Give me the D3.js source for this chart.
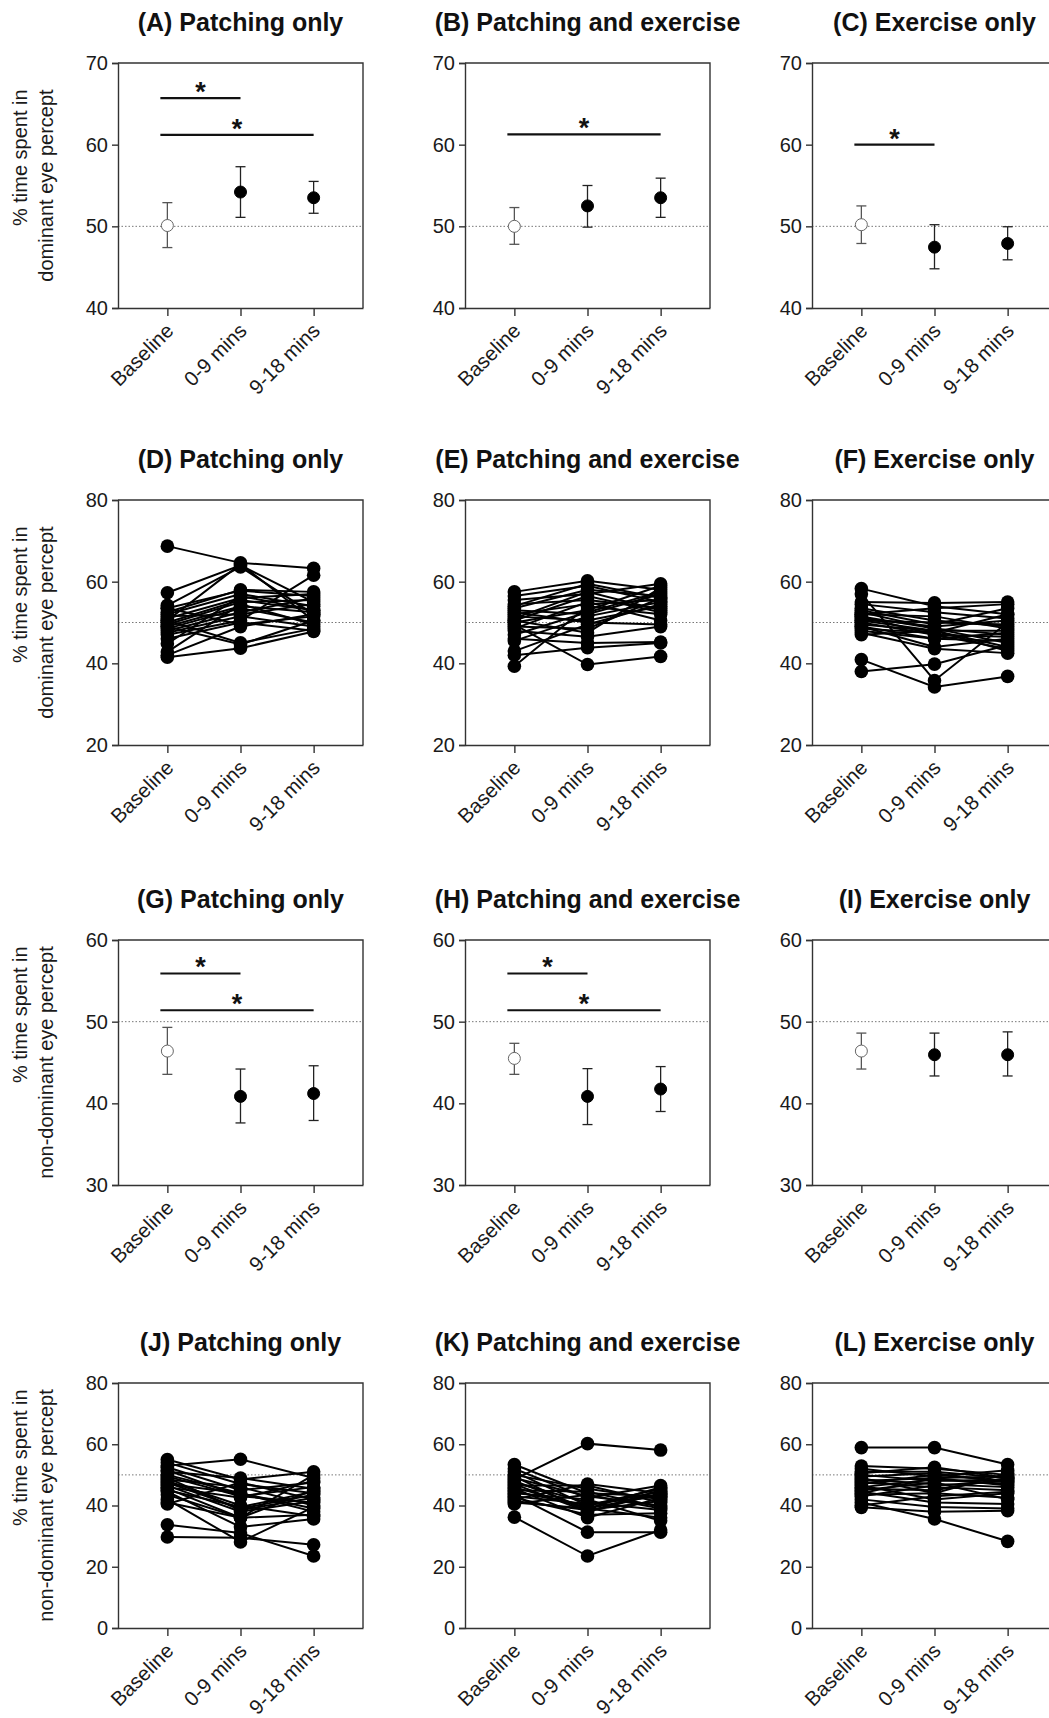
<!DOCTYPE html>
<html><head><meta charset="utf-8">
<script src="https://cdn.jsdelivr.net/npm/d3@7"></script>
<style>
body{margin:0;background:#fff;}
text{font-family:"Liberation Sans",Arial,Helvetica,sans-serif;}
</style>
</head><body>
<svg id="chart" width="1049" height="1718"></svg>
<script>
// ---------- DATA ----------
const categories = ["Baseline", "0-9 mins", "9-18 mins"];
const titles = [
  "(A) Patching only", "(B) Patching and exercise", "(C) Exercise only",
  "(D) Patching only", "(E) Patching and exercise", "(F) Exercise only",
  "(G) Patching only", "(H) Patching and exercise", "(I) Exercise only",
  "(J) Patching only", "(K) Patching and exercise", "(L) Exercise only"
];
const yLabelDominant = ["% time spent in", "dominant eye percept"];
const yLabelNonDominant = ["% time spent in", "non-dominant eye percept"];

const ticksRow1 = [40, 50, 60, 70];
const ticksRow2 = [20, 40, 60, 80];
const ticksRow3 = [30, 40, 50, 60];
const ticksRow4 = [0, 20, 40, 60, 80];
const referenceLine = 50;

// Summary panels: mean, lower and upper error limits
const meanA = [50.1, 54.2, 53.5], lowA = [47.4, 51.1, 51.6], highA = [52.9, 57.3, 55.5];
const meanB = [50.0, 52.5, 53.5], lowB = [47.8, 49.9, 51.1], highB = [52.3, 55.0, 55.9];
const meanC = [50.2, 47.45, 47.9], lowC = [47.9, 44.8, 45.9], highC = [52.5, 50.2, 49.95];
const meanG = [46.4, 40.85, 41.2], lowG = [43.55, 37.6, 37.9], highG = [49.3, 44.2, 44.6];
const meanH = [45.5, 40.85, 41.75], lowH = [43.55, 37.4, 39.0], highH = [47.35, 44.25, 44.5];
const meanI = [46.4, 45.95, 45.95], lowI = [44.2, 43.35, 43.35], highI = [48.6, 48.6, 48.75];

// significance comparisons: [fromIndex, toIndex, value level]
const sigA = [[0, 1, 65.7], [0, 2, 61.2]];
const sigB = [[0, 2, 61.25]];
const sigC = [[0, 1, 60.0]];
const sigG = [[0, 1, 55.9], [0, 2, 51.4]];
const sigH = [[0, 1, 55.9], [0, 2, 51.4]];
const sigI = [];

// Individual participants: [Baseline, 0-9 mins, 9-18 mins]
const indivD = [
  [68.7,64.6,63.3],[57.3,64.0,55.0],[54.2,63.6,52.0],[50.5,64.3,50.5],[53.5,57.8,56.5],[52.0,57.0,54.0],
  [51.0,56.0,57.0],[50.0,55.5,53.0],[49.5,55.0,55.5],[49.0,54.0,52.5],[48.5,53.5,50.0],[48.0,52.5,56.0],
  [47.5,51.5,49.0],[47.0,50.5,61.6],[46.0,50.0,48.0],[53.5,49.5,51.5],[51.5,52.0,54.5],[49.0,44.6,50.5],
  [44.8,56.5,53.0],[42.8,54.5,49.5],[41.5,43.7,47.8],[42.0,49.0,52.0],[50.5,45.0,48.5],[52.5,58.0,57.5]
];
const indivE = [
  [57.5,60.2,58.0],[56.5,59.0,55.0],[55.5,57.0,59.5],[54.5,55.5,53.5],[53.5,58.0,56.5],[53.0,52.0,57.0],
  [52.0,54.5,55.5],[51.5,50.5,54.0],[50.5,56.5,52.5],[50.0,53.0,59.0],[49.5,39.7,41.7],[49.0,48.5,56.0],
  [48.5,55.0,50.5],[48.0,46.5,49.0],[47.0,52.5,57.5],[46.0,45.0,45.2],[45.5,51.5,55.0],[43.0,49.5,54.5],
  [42.0,43.8,45.0],[39.3,54.0,52.0],[51.0,57.5,53.0],[52.5,50.0,49.5],[54.0,59.5,56.0],[50.5,47.5,58.5]
];
const indivF = [
  [58.3,54.0,52.0],[57.0,35.8,50.0],[55.0,54.8,55.0],[54.5,52.5,51.0],[53.5,50.5,49.0],[53.0,49.5,53.5],
  [52.5,48.5,47.0],[52.0,51.5,48.5],[51.5,48.5,45.0],[51.0,49.0,50.5],[50.5,48.0,44.0],[50.0,47.0,46.5],
  [49.5,48.0,43.0],[49.0,46.0,47.5],[48.5,47.5,52.0],[48.0,46.0,45.5],[47.5,43.6,42.5],[47.0,48.0,48.0],
  [40.9,34.2,36.8],[38.0,39.8,44.5],[52.0,53.5,54.5],[50.5,50.0,49.5],[49.0,44.0,46.0],[51.5,47.0,43.5]
];
const indivJ = [
  [53.0,55.1,49.0],[55.0,48.5,51.0],[54.0,47.0,44.0],[52.5,45.0,47.5],[51.5,43.0,41.0],[51.0,49.0,45.5],
  [50.0,44.0,38.0],[49.5,43.0,46.0],[49.0,38.5,42.5],[48.5,46.0,40.0],[48.0,40.0,36.5],[47.5,39.0,43.5],
  [47.0,44.0,39.0],[46.5,38.0,41.5],[46.0,42.5,48.0],[45.5,36.0,37.0],[45.0,39.5,44.5],[44.5,33.0,35.6],
  [43.5,36.0,50.0],[42.0,28.1,39.5],[41.0,36.0,45.0],[40.5,47.5,42.0],[33.7,31.0,23.5],[29.7,29.5,27.2]
];
const indivK = [
  [48.5,60.2,58.1],[53.4,44.0,43.0],[52.0,42.5,46.5],[51.0,40.0,44.5],[50.0,45.5,42.0],[49.5,38.0,45.0],
  [49.0,43.0,40.0],[48.0,39.0,43.5],[47.5,41.0,38.5],[47.0,38.0,44.0],[46.5,46.5,41.0],[46.0,39.0,36.0],
  [45.5,36.0,42.5],[45.0,44.5,39.5],[44.5,40.0,45.5],[44.0,42.0,35.0],[43.5,31.3,31.3],[43.0,40.5,43.0],
  [42.5,37.0,37.5],[42.0,47.0,44.0],[41.5,38.5,41.5],[41.0,39.0,46.0],[40.5,43.5,39.0],[36.2,23.5,32.0]
];
const indivL = [
  [58.9,58.9,53.4],[52.9,52.0,50.0],[52.0,49.5,51.5],[51.0,51.0,49.0],[50.0,48.0,48.5],[49.5,50.5,47.5],
  [49.0,44.0,50.5],[48.5,47.0,46.0],[48.0,49.0,49.5],[47.5,46.0,45.0],[47.0,50.0,48.0],[46.5,42.0,44.0],
  [46.0,48.5,47.0],[45.5,45.0,49.0],[45.0,47.5,42.0],[44.5,41.0,40.5],[44.0,49.0,46.5],[43.5,44.0,42.5],
  [43.0,46.5,48.0],[42.0,39.5,39.0],[41.0,35.6,28.3],[40.0,43.0,44.5],[39.4,38.0,38.3],[50.5,52.5,49.0]
];

// ---------- LAYOUT ----------
const colX = [118, 465, 812];
const rowY = [63, 500, 940, 1383];
const W = 245, H = 245;
const svg = d3.select("#chart");

function makeFrame(g, ticks) {
  const y = d3.scaleLinear().domain([d3.min(ticks), d3.max(ticks)]).range([H, 0]);
  const x = d3.scalePoint().domain(categories).range([0, W]).padding(0.675);
  g.append("line").attr("x1", 0).attr("x2", W).attr("y1", y(referenceLine)).attr("y2", y(referenceLine))
    .attr("stroke", "#777").attr("stroke-width", 1).attr("stroke-dasharray", "1.5,2");
  return {x, y};
}

function drawAxes(g, x, y, ticks) {
  g.append("path").attr("d", `M0,0H${W}V${H}`).attr("fill", "none").attr("stroke", "#333").attr("stroke-width", 1.4);
  const ya = g.append("g").call(d3.axisLeft(y).tickValues(ticks).tickSize(6).tickPadding(4).tickFormat(d3.format("d")));
  ya.select(".domain").attr("stroke", "#333").attr("stroke-width", 1.4);
  ya.selectAll(".tick line").attr("stroke", "#333").attr("stroke-width", 1.4);
  ya.selectAll("text").style("font-size", "20px").attr("fill", "#1a1a1a")
    .style("font-family", '"Liberation Sans", Arial, sans-serif');
  ya.attr("font-size", null).attr("font-family", null);

  const xa = g.append("g").attr("transform", `translate(0,${H})`)
    .call(d3.axisBottom(x).tickSize(8).tickSizeOuter(0));
  xa.select(".domain").attr("stroke", "#333").attr("stroke-width", 1.4);
  xa.selectAll(".tick line").attr("stroke", "#333").attr("stroke-width", 1.4);
  xa.selectAll("text").attr("y", null).attr("dy", null).attr("x", null)
    .attr("transform", "translate(7,24) rotate(-45)").attr("text-anchor", "end")
    .style("font-size", "20.5px").attr("fill", "#1a1a1a")
    .style("font-family", '"Liberation Sans", Arial, sans-serif');
  xa.attr("font-size", null).attr("font-family", null);
}

function drawTitle(col, row, idx) {
  svg.append("text").attr("x", colX[col] + W / 2).attr("y", rowY[row] - 32)
    .attr("text-anchor", "middle").style("font-weight", "bold").style("font-size", "25px")
    .attr("fill", "#111").text(titles[idx]);
}

function drawYLabel(row, lines) {
  const cy = rowY[row] + H / 2;
  const l2 = svg.append("text").attr("transform", `translate(53,${cy}) rotate(-90)`)
    .attr("text-anchor", "middle").style("font-size", "20px").attr("fill", "#1a1a1a").text(lines[1]);
  const len = l2.node().getComputedTextLength();
  svg.append("text").attr("transform", `translate(27,${cy}) rotate(-90)`)
    .attr("x", len / 2).attr("text-anchor", "end").style("font-size", "20px").attr("fill", "#1a1a1a").text(lines[0]);
}

function summaryPanel(col, row, ticks, mean, low, high, sig) {
  const g = svg.append("g").attr("transform", `translate(${colX[col]},${rowY[row]})`);
  const {x, y} = makeFrame(g, ticks);
  const pts = categories.map((c, i) => ({c, i, m: mean[i], lo: low[i], hi: high[i]}));
  const eb = g.selectAll(".eb").data(pts).join("g");
  eb.append("line").attr("x1", d => x(d.c)).attr("x2", d => x(d.c)).attr("y1", d => y(d.lo)).attr("y2", d => y(d.hi))
    .attr("stroke", d => d.i === 0 ? "#555" : "#222").attr("stroke-width", 1.3);
  ["lo", "hi"].forEach(k => {
    eb.append("line").attr("x1", d => x(d.c) - 5).attr("x2", d => x(d.c) + 5).attr("y1", d => y(d[k])).attr("y2", d => y(d[k]))
      .attr("stroke", d => d.i === 0 ? "#555" : "#222").attr("stroke-width", 1.3);
  });
  eb.append("circle").attr("cx", d => x(d.c)).attr("cy", d => y(d.m)).attr("r", 6)
    .attr("fill", d => d.i === 0 ? "#fff" : "#000").attr("stroke", d => d.i === 0 ? "#666" : "#000").attr("stroke-width", 1);
  sig.forEach(s => {
    const x1 = x(categories[s[0]]) - 7, x2 = x(categories[s[1]]);
    g.append("line").attr("x1", x1).attr("x2", x2).attr("y1", y(s[2])).attr("y2", y(s[2]))
      .attr("stroke", "#111").attr("stroke-width", 2.2);
    g.append("text").attr("x", (x1 + x2) / 2).attr("y", y(s[2]) + 3).attr("text-anchor", "middle")
      .style("font-size", "27px").style("font-weight", "bold").attr("fill", "#111").text("*");
  });
  drawAxes(g, x, y, ticks);
}

function individualPanel(col, row, ticks, data) {
  const g = svg.append("g").attr("transform", `translate(${colX[col]},${rowY[row]})`);
  const {x, y} = makeFrame(g, ticks);
  const line = d3.line().x((d, i) => x(categories[i])).y(d => y(d));
  g.selectAll(".pl").data(data).join("path").attr("d", line)
    .attr("fill", "none").attr("stroke", "#000").attr("stroke-width", 2);
  const pts = data.flatMap(r => r.map((v, i) => ({c: categories[i], v})));
  g.selectAll(".pt").data(pts).join("circle").attr("cx", d => x(d.c)).attr("cy", d => y(d.v))
    .attr("r", 6.8).attr("fill", "#000");
  drawAxes(g, x, y, ticks);
}

summaryPanel(0, 0, ticksRow1, meanA, lowA, highA, sigA);
summaryPanel(1, 0, ticksRow1, meanB, lowB, highB, sigB);
summaryPanel(2, 0, ticksRow1, meanC, lowC, highC, sigC);
individualPanel(0, 1, ticksRow2, indivD);
individualPanel(1, 1, ticksRow2, indivE);
individualPanel(2, 1, ticksRow2, indivF);
summaryPanel(0, 2, ticksRow3, meanG, lowG, highG, sigG);
summaryPanel(1, 2, ticksRow3, meanH, lowH, highH, sigH);
summaryPanel(2, 2, ticksRow3, meanI, lowI, highI, sigI);
individualPanel(0, 3, ticksRow4, indivJ);
individualPanel(1, 3, ticksRow4, indivK);
individualPanel(2, 3, ticksRow4, indivL);

titles.forEach((t, i) => drawTitle(i % 3, Math.floor(i / 3), i));
drawYLabel(0, yLabelDominant);
drawYLabel(1, yLabelDominant);
drawYLabel(2, yLabelNonDominant);
drawYLabel(3, yLabelNonDominant);
</script>
</body></html>
